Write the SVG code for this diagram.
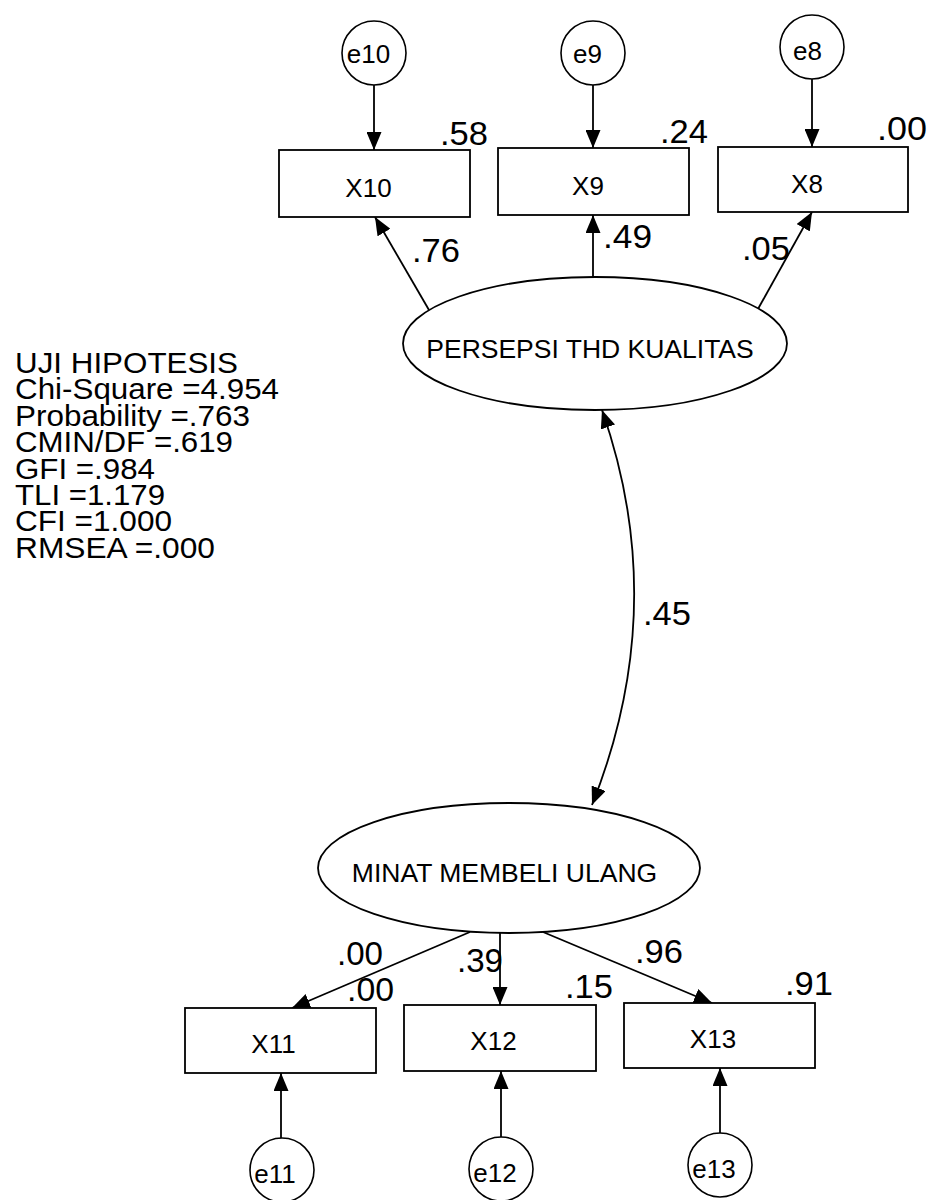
<svg xmlns="http://www.w3.org/2000/svg" width="929" height="1200" viewBox="0 0 929 1200">
<style>
  .box { fill: #fff; stroke: #000; stroke-width: 1.8; }
  .lat { fill: #fff; stroke: #000; stroke-width: 1.8; }
  .err { fill: #fff; stroke: #000; stroke-width: 1.6; }
  .lbl { font-family: "Liberation Sans", Arial, sans-serif; fill: #000; }
  .box-t { font-size: 26px; text-anchor: middle; }
  .err-t { font-size: 26px; text-anchor: middle; }
  .lat-t { font-size: 26.5px; text-anchor: middle; }
  .num { font-size: 33px; }
  .stat { font-size: 30px; }
  .conn line, .conn path { stroke: #000; stroke-width: 1.8; fill: none; }
</style>
<defs>
  <marker id="ah" markerUnits="userSpaceOnUse" markerWidth="18" markerHeight="15" refX="18" refY="7.5" orient="auto-start-reverse" viewBox="0 0 18 15">
    <path d="M0,0 L18,7.5 L0,15 z" fill="#000"/>
  </marker>
</defs>
<rect width="929" height="1200" fill="#fff"/>

<g id="fit-stats" class="lbl stat">
  <text x="15" y="373" textLength="223" lengthAdjust="spacingAndGlyphs">UJI HIPOTESIS</text>
  <text x="15" y="399" textLength="264" lengthAdjust="spacingAndGlyphs">Chi-Square =4.954</text>
  <text x="15" y="426" textLength="235" lengthAdjust="spacingAndGlyphs">Probability =.763</text>
  <text x="15" y="452" textLength="218" lengthAdjust="spacingAndGlyphs">CMIN/DF =.619</text>
  <text x="15" y="479" textLength="140" lengthAdjust="spacingAndGlyphs">GFI =.984</text>
  <text x="15" y="505" textLength="150" lengthAdjust="spacingAndGlyphs">TLI =1.179</text>
  <text x="15" y="531" textLength="157" lengthAdjust="spacingAndGlyphs">CFI =1.000</text>
  <text x="15" y="558" textLength="200" lengthAdjust="spacingAndGlyphs">RMSEA =.000</text>
</g>

<g id="connectors" class="conn">
  <line x1="374" y1="85" x2="374" y2="150" marker-end="url(#ah)"/>
  <line x1="593" y1="85" x2="593" y2="148" marker-end="url(#ah)"/>
  <line x1="812" y1="79" x2="812" y2="147" marker-end="url(#ah)"/>
  <line x1="429" y1="310" x2="375" y2="217" marker-end="url(#ah)"/>
  <line x1="593" y1="277" x2="593" y2="215" marker-end="url(#ah)"/>
  <line x1="758" y1="309" x2="812" y2="212" marker-end="url(#ah)"/>
  <path d="M602,410 Q671,606.5 592,805" marker-start="url(#ah)" marker-end="url(#ah)"/>
  <line x1="470" y1="932" x2="292" y2="1008" marker-end="url(#ah)"/>
  <line x1="500" y1="933" x2="500" y2="1005" marker-end="url(#ah)"/>
  <line x1="543" y1="932" x2="712" y2="1003" marker-end="url(#ah)"/>
  <line x1="281" y1="1138" x2="281" y2="1073" marker-end="url(#ah)"/>
  <line x1="501" y1="1137" x2="501" y2="1071" marker-end="url(#ah)"/>
  <line x1="720" y1="1133" x2="720" y2="1068" marker-end="url(#ah)"/>
</g>

<g id="e10"><circle class="err" cx="374" cy="53" r="32"/><text class="lbl err-t" x="368.5" y="63">e10</text></g>
<g id="e9"><circle class="err" cx="593" cy="53" r="32"/><text class="lbl err-t" x="587.5" y="63">e9</text></g>
<g id="e8"><circle class="err" cx="812" cy="47" r="32"/><text class="lbl err-t" x="807.5" y="60">e8</text></g>

<g id="X10"><rect class="box" x="279" y="150" width="191" height="67"/><text class="lbl box-t" x="368.5" y="197">X10</text></g>
<g id="X9"><rect class="box" x="498" y="148" width="191" height="67"/><text class="lbl box-t" x="588" y="195">X9</text></g>
<g id="X8"><rect class="box" x="718" y="147" width="190" height="65"/><text class="lbl box-t" x="807" y="193">X8</text></g>

<g id="persepsi"><ellipse class="lat" cx="595" cy="343.5" rx="192" ry="66.5"/><text class="lbl lat-t" x="590" y="358">PERSEPSI THD KUALITAS</text></g>
<g id="minat"><ellipse class="lat" cx="509" cy="868" rx="191" ry="65"/><text class="lbl lat-t" x="504.5" y="882">MINAT MEMBELI ULANG</text></g>

<g id="X11"><rect class="box" x="185" y="1008" width="191" height="65"/><text class="lbl box-t" x="273.5" y="1053">X11</text></g>
<g id="X12"><rect class="box" x="404" y="1005" width="192" height="66"/><text class="lbl box-t" x="493.5" y="1050">X12</text></g>
<g id="X13"><rect class="box" x="624" y="1003" width="191" height="65"/><text class="lbl box-t" x="713" y="1048">X13</text></g>

<g id="e11"><circle class="err" cx="282" cy="1170" r="32"/><text class="lbl err-t" x="275" y="1183">e11</text></g>
<g id="e12"><circle class="err" cx="501" cy="1169" r="32"/><text class="lbl err-t" x="495" y="1182">e12</text></g>
<g id="e13"><circle class="err" cx="720" cy="1165" r="32"/><text class="lbl err-t" x="714" y="1178">e13</text></g>

<g id="estimates" class="lbl num">
  <text x="440" y="145" textLength="48" lengthAdjust="spacingAndGlyphs">.58</text>
  <text x="660" y="143" textLength="48" lengthAdjust="spacingAndGlyphs">.24</text>
  <text x="877" y="140" textLength="50" lengthAdjust="spacingAndGlyphs">.00</text>
  <text x="412" y="262" textLength="48" lengthAdjust="spacingAndGlyphs">.76</text>
  <text x="603" y="248" textLength="49" lengthAdjust="spacingAndGlyphs">.49</text>
  <text x="742" y="260" textLength="48" lengthAdjust="spacingAndGlyphs">.05</text>
  <text x="643" y="625" textLength="48" lengthAdjust="spacingAndGlyphs">.45</text>
  <text x="337" y="965" textLength="46" lengthAdjust="spacingAndGlyphs">.00</text>
  <text x="457" y="972" textLength="46" lengthAdjust="spacingAndGlyphs">.39</text>
  <text x="347" y="1001" textLength="47" lengthAdjust="spacingAndGlyphs">.00</text>
  <text x="565" y="998" textLength="48" lengthAdjust="spacingAndGlyphs">.15</text>
  <text x="635" y="963" textLength="48" lengthAdjust="spacingAndGlyphs">.96</text>
  <text x="785" y="995" textLength="48" lengthAdjust="spacingAndGlyphs">.91</text>
</g>
</svg>
